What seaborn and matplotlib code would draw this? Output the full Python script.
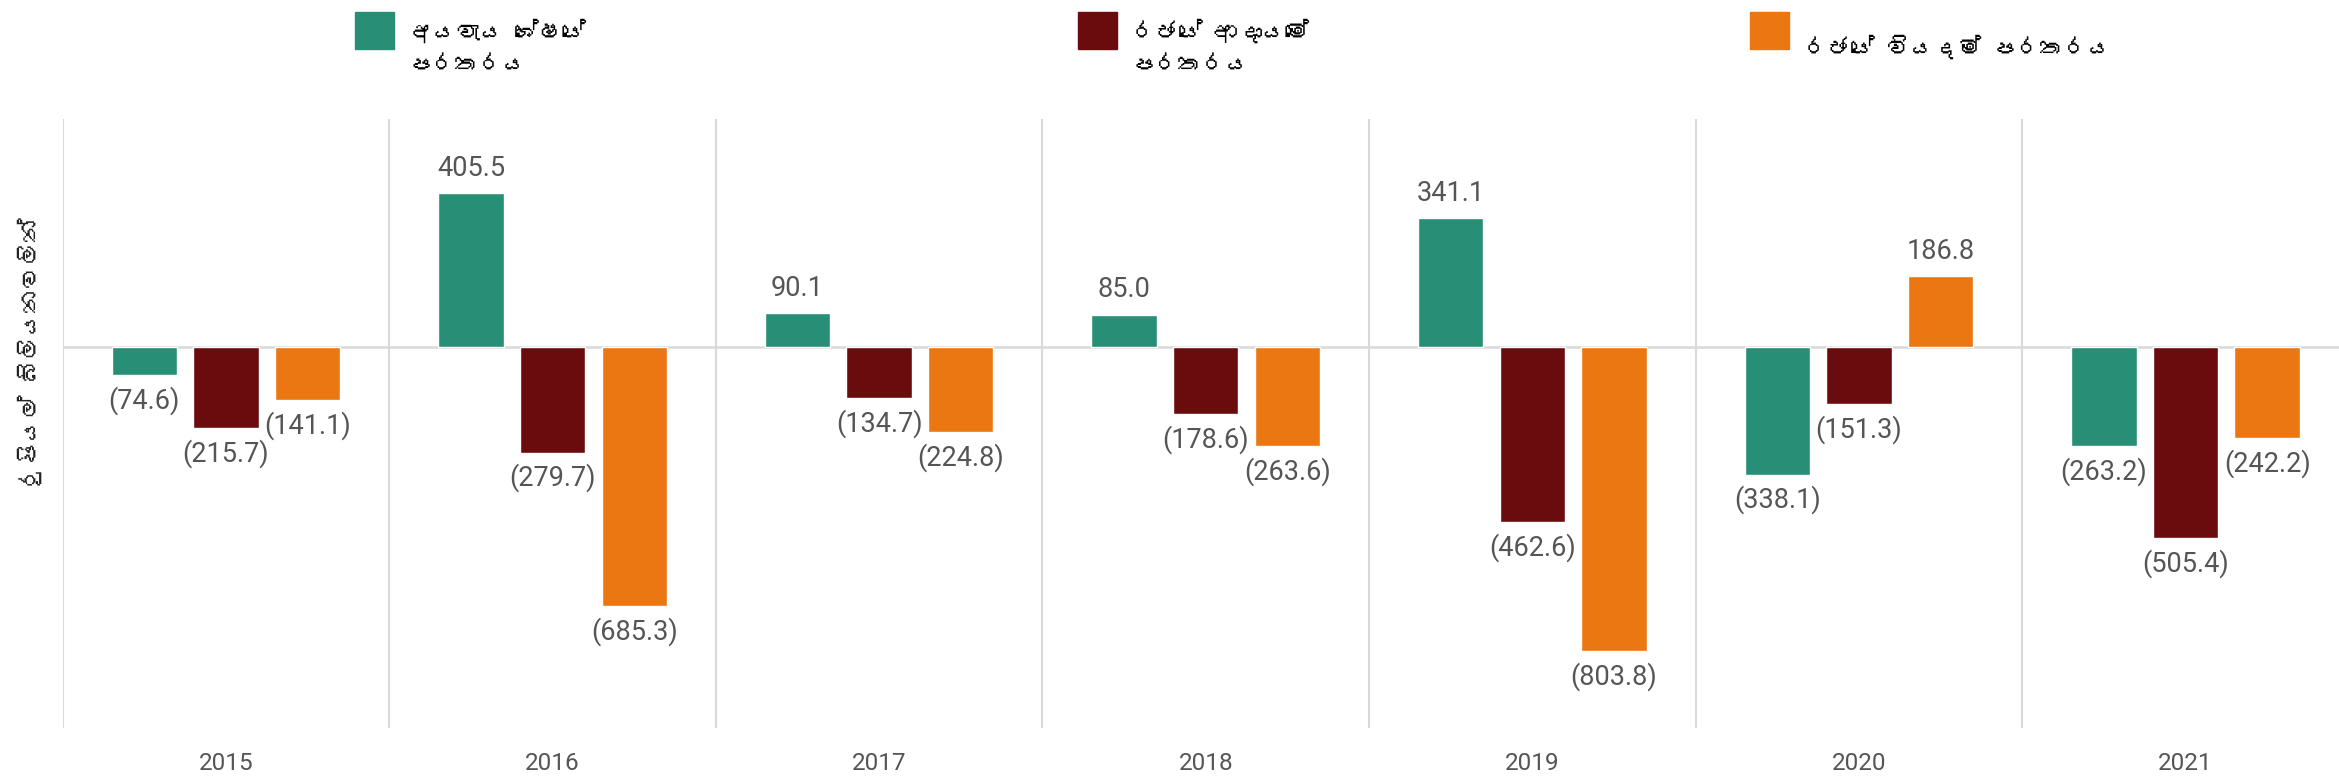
import matplotlib
matplotlib.use('Agg')
import matplotlib.pyplot as plt
import matplotlib.patches as mpatches
from matplotlib import font_manager
from matplotlib.ft2font import FT2Font
import pandas as pd
import seaborn as sns

# %% data
years = ['2015', '2016', '2017', '2018', '2019', '2020', '2021']
budget_gap = [-74.6, 405.5, 90.1, 85.0, 341.1, -338.1, -263.2]
revenue_gap = [-215.7, -279.7, -134.7, -178.6, -462.6, -151.3, -505.4]
expenditure_gap = [-141.1, -685.3, -224.8, -263.6, -803.8, 186.8, -242.2]
series_names = ['අයවැය ශේෂයේ\nපරතරය', 'රජයේ ආදායමේ\nපරතරය', 'රජයේ වියදම් පරතරය']
ylabel = 'රුපියල් බිලියනවලින්'
colors = ['#288F77', '#6A0C0E', '#EA7712']

df = pd.DataFrame({
    'year': years * 3,
    'value': budget_gap + revenue_gap + expenditure_gap,
    'series': [series_names[0]] * 7 + [series_names[1]] * 7 + [series_names[2]] * 7,
})


# %% find a font that has Sinhala glyphs, if any
def find_sinhala_font():
    for f in font_manager.fontManager.ttflist:
        try:
            cmap = FT2Font(f.fname).get_charmap()
        except Exception:
            continue
        if 0x0DBB in cmap and 0x0DBA in cmap:
            return f.name
    return None


sinhala = find_sinhala_font()
sin_family = [sinhala, 'DejaVu Sans'] if sinhala else ['DejaVu Sans']

sns.set_theme(style='white')
plt.rcParams['font.family'] = ['Roboto', 'DejaVu Sans']

# %% plot
fig = plt.figure(figsize=(23.39, 7.8), dpi=100)
ax = fig.add_axes([0.0268, 0.0667, 0.9732, 0.7807])

sns.barplot(data=df, x='year', y='value', hue='series', palette=colors,
            width=0.75, gap=0.2, saturation=1, legend=False, ax=ax, zorder=3)

for cont in ax.containers:
    labels = [f'({-v:.1f})' if v < 0 else f'{v:.1f}' for v in cont.datavalues]
    ax.bar_label(cont, labels=labels, padding=8, fontsize=19.5, color='#555555')

for x in [-0.5, 0.5, 1.5, 2.5, 3.5, 4.5, 5.5]:
    ax.axvline(x, color='#d9d9d9', lw=1.5, zorder=1)
ax.axhline(0, color='#d9d9d9', lw=1.8, zorder=1)

ax.set_xlim(-0.5, 6.47)
ax.set_ylim(-1008, 602)
ax.set_yticks([])
ax.set_xlabel('')
ax.set_ylabel(ylabel, family=sin_family, fontsize=17, color='#222222')
ax.yaxis.set_label_coords(-0.009, 0.616)
ax.tick_params(axis='x', length=0, pad=17, labelsize=17.5, labelcolor='#555555')
for s in ax.spines.values():
    s.set_visible(False)

# legend drawn by hand at the top
legend_x = [355, 1078, 1750]
for i, name in enumerate(series_names):
    x0 = legend_x[i] / 2339
    fig.patches.append(mpatches.Rectangle((x0, 1 - 49 / 780), 39 / 2339, 37 / 780,
                                          transform=fig.transFigure, color=colors[i]))
    fig.text(x0 + 54 / 2339, 1 - 47 / 780, name, family=sin_family, fontsize=17,
             color='black', va='center', linespacing=1.9)

fig.savefig('out.png', dpi=100)
